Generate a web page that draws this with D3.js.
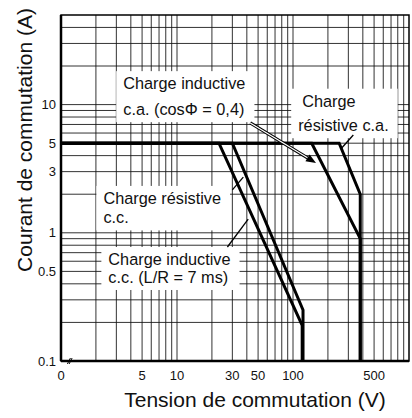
<!DOCTYPE html>
<html>
<head>
<meta charset="utf-8">
<script src="https://cdn.jsdelivr.net/npm/d3@7"></script>
<style>
body { margin: 0; background: #fff; }
text { font-family: "Liberation Sans", Arial, Helvetica, sans-serif; fill: #111; }
</style>
</head>
<body>
<script>
// curves: [tension V, courant A]
var dcInductive = [[1, 5], [23, 5], [120, 0.19], [120, 0.1]];
var dcResistive = [[1, 5], [30, 5], [122, 0.25], [122, 0.1]];
var acInductive = [[1, 5], [145, 5], [380, 0.9], [380, 0.1]];
var acResistive = [[1, 5], [250, 5], [380, 2], [380, 0.1]];

var xTicks = [1, 5, 10, 30, 50, 100, 500];
var xTickLabels = ["0", "5", "10", "30", "50", "100", "500"];
var yTicks = [0.1, 0.5, 1, 3, 5, 10];
var yTickLabels = ["0.1", "0.5", "1", "3", "5", "10"];

var xGrid = [2, 3, 4, 5, 6, 7, 8, 9, 10, 20, 30, 40, 50, 60, 70, 80, 90, 100, 200, 300, 400, 500, 600, 700, 800, 900];
var yGrid = [0.2, 0.3, 0.4, 0.5, 0.6, 0.7, 0.8, 0.9, 1, 2, 3, 4, 5, 6, 7, 8, 9, 10, 20, 30, 40];

var notes = [
  {lines: ["Charge inductive", "c.a. (cos\u03A6 = 0,4)"], v: 3.44, a: 13.2, gap: 26, dx2: 0},
  {lines: ["Charge", "r\u00e9sistive c.a."], v: 120, a: 9.63, gap: 24.5, dx2: -4},
  {lines: ["Charge r\u00e9sistive", "c.c."], v: 2.32, a: 1.68, gap: 19.5, dx2: 0},
  {lines: ["Charge inductive", "c.c. (L/R = 7 ms)"], v: 2.56, a: 0.561, gap: 18, dx2: 0}
];
var pointers = [
  [[30, 2.16], [37.3, 2.72]],
  [[27.2, 0.775], [41.1, 1.28]],
  [[263, 4.59], [331, 5.79]]
];
var arrow = [[42.8, 7.19], [158, 3.5]];

var svgWidth = 412, svgHeight = 418;
var margin = {top: 15, right: 3, bottom: 57, left: 61};
var width = svgWidth - margin.left - margin.right;
var height = svgHeight - margin.top - margin.bottom;

var svg = d3.select("body").append("svg").attr("width", svgWidth).attr("height", svgHeight);
svg.append("rect").attr("width", svgWidth).attr("height", svgHeight).attr("fill", "#fff");
var chart = svg.append("g").attr("transform", `translate(${margin.left}, ${margin.top})`);

var x = d3.scaleLog().domain([1, 1000]).range([0, 348]);
var y = d3.scaleLog().domain([0.1, 50]).range([height, 0]);

chart.selectAll(".vgrid").data(xGrid).enter().append("line").attr("class", "vgrid")
  .attr("x1", d => x(d)).attr("x2", d => x(d)).attr("y1", 0).attr("y2", height)
  .attr("stroke", "#111").attr("stroke-width", 1).attr("opacity", 0.85);
chart.selectAll(".hgrid").data(yGrid).enter().append("line").attr("class", "hgrid")
  .attr("y1", d => y(d)).attr("y2", d => y(d)).attr("x1", 0).attr("x2", width)
  .attr("stroke", "#111").attr("stroke-width", 1).attr("opacity", 0.85);

// white label boxes
var noteG = chart.selectAll(".note").data(notes).enter().append("g").attr("class", "note");
noteG.each(function(d) {
  var g = d3.select(this);
  var t = g.append("text").attr("x", x(d.v)).attr("y", y(d.a)).attr("font-size", "16.3px");
  d.lines.forEach((s, i) => {
    t.append("tspan").attr("x", x(d.v) + (i ? d.dx2 : 0)).attr("y", y(d.a) + i * d.gap).text(s);
  });
  var b = t.node().getBBox();
  g.insert("rect", "text").attr("x", b.x - 7).attr("y", b.y - 3).attr("width", b.width + 16)
    .attr("height", b.height + 7).attr("fill", "#fff");
});

var line = d3.line().x(d => x(d[0])).y(d => y(d[1]));
[dcInductive, dcResistive, acInductive, acResistive].forEach(s => {
  chart.append("path").datum(s).attr("d", line).attr("fill", "none")
    .attr("stroke", "#000").attr("stroke-width", 3).attr("stroke-linejoin", "miter");
});

chart.selectAll(".ptr").data(pointers).enter().append("path").attr("class", "ptr")
  .attr("d", line).attr("stroke", "#000").attr("stroke-width", 1.3).attr("fill", "none");

// hollow arrow
var a0 = [x(arrow[0][0]), y(arrow[0][1])], a1 = [x(arrow[1][0]), y(arrow[1][1])];
var ang = Math.atan2(a1[1] - a0[1], a1[0] - a0[0]);
var back = [a1[0] - 10 * Math.cos(ang), a1[1] - 10 * Math.sin(ang)];
chart.append("line").attr("x1", a0[0]).attr("y1", a0[1]).attr("x2", back[0]).attr("y2", back[1])
  .attr("stroke", "#000").attr("stroke-width", 3.2);
chart.append("line").attr("x1", a0[0]).attr("y1", a0[1]).attr("x2", back[0]).attr("y2", back[1])
  .attr("stroke", "#fff").attr("stroke-width", 1.2);
var px = -Math.sin(ang), py = Math.cos(ang);
chart.append("path").attr("d", `M${a1[0]},${a1[1]}L${back[0] + 4 * px},${back[1] + 4 * py}L${back[0] - 4 * px},${back[1] - 4 * py}Z`)
  .attr("fill", "#000");

// frame
chart.append("rect").attr("width", width).attr("height", height).attr("fill", "none")
  .attr("stroke", "#000").attr("stroke-width", 1.5);
chart.append("line").attr("x1", 0).attr("x2", 0).attr("y1", 0).attr("y2", height)
  .attr("stroke", "#000").attr("stroke-width", 2.5);
chart.append("line").attr("x1", 0).attr("x2", width).attr("y1", height).attr("y2", height)
  .attr("stroke", "#000").attr("stroke-width", 2.5);
// axis break
[1.17, 1.21].forEach(v => {
  chart.append("line").attr("x1", x(v) - 1.5).attr("x2", x(v) + 1.5).attr("y1", height + 3).attr("y2", height - 3)
    .attr("stroke", "#000").attr("stroke-width", 1);
});

chart.selectAll(".xtick").data(xTicks).enter().append("text").attr("class", "xtick")
  .attr("x", d => x(d)).attr("y", height + 19).attr("text-anchor", "middle").attr("font-size", "13px")
  .text((d, i) => xTickLabels[i]);
chart.selectAll(".ytick").data(yTicks).enter().append("text").attr("class", "ytick")
  .attr("x", -5).attr("y", d => y(d)).attr("dy", "0.35em").attr("text-anchor", "end").attr("font-size", "13px")
  .text((d, i) => yTickLabels[i]);

svg.append("text").attr("x", 255).attr("y", 407).attr("text-anchor", "middle").attr("font-size", "21px")
  .text("Tension de commutation (V)");
svg.append("text").attr("transform", "translate(32, 140) rotate(-90)").attr("text-anchor", "middle")
  .attr("font-size", "21px").text("Courant de commutation (A)");
</script>
</body>
</html>
